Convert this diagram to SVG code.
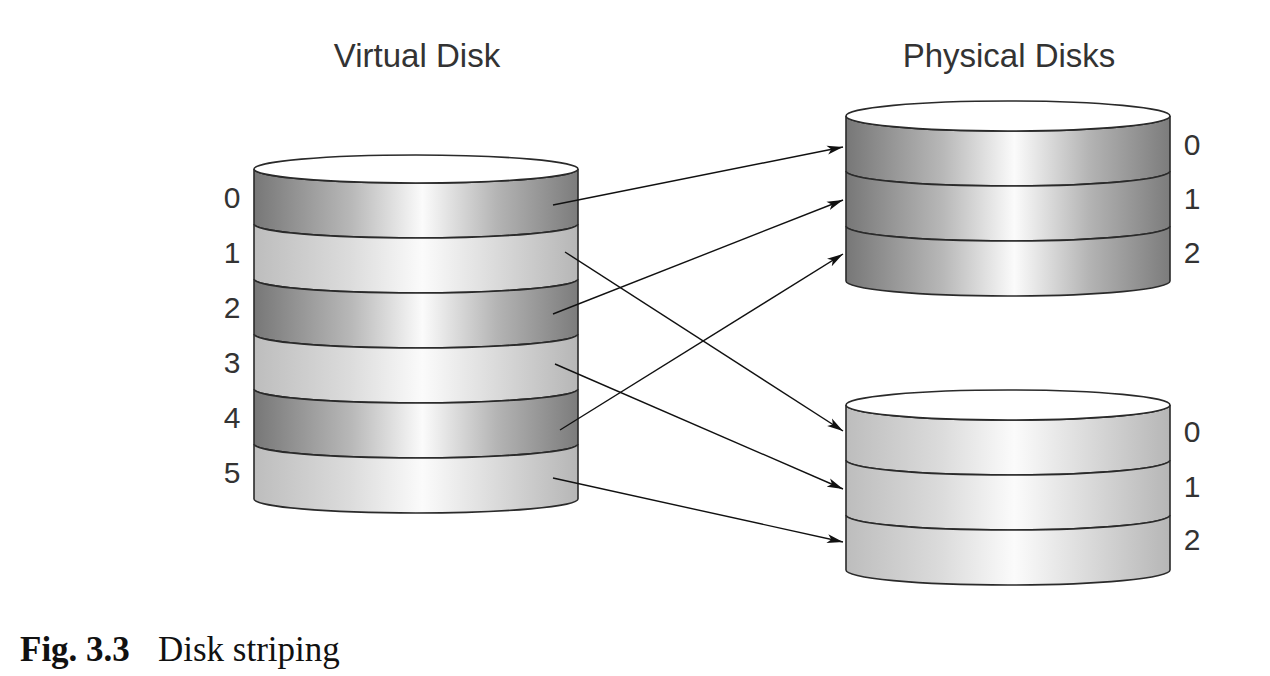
<svg xmlns="http://www.w3.org/2000/svg" width="1270" height="676" viewBox="0 0 1270 676">
<defs>
<linearGradient id="dark" x1="0" y1="0" x2="1" y2="0">
<stop offset="0" stop-color="#777"/>
<stop offset="0.3" stop-color="#b8b8b8"/>
<stop offset="0.52" stop-color="#fbfbfb"/>
<stop offset="0.75" stop-color="#b4b4b4"/>
<stop offset="1" stop-color="#7c7c7c"/>
</linearGradient>
<linearGradient id="light" x1="0" y1="0" x2="1" y2="0">
<stop offset="0" stop-color="#bdbdbd"/>
<stop offset="0.3" stop-color="#dcdcdc"/>
<stop offset="0.52" stop-color="#fbfbfb"/>
<stop offset="0.75" stop-color="#dadada"/>
<stop offset="1" stop-color="#b6b6b6"/>
</linearGradient>
<marker id="arr" markerUnits="userSpaceOnUse" markerWidth="18" markerHeight="10" refX="16" refY="5" orient="auto">
<path d="M0,0.5 L16,5 L0,9.5 L4,5 Z" fill="#111"/>
</marker>
<style>
.band{stroke:#2a2a2a;stroke-width:1.6}
.d{fill:url(#dark)}
.l{fill:url(#light)}
.top{fill:#fff;stroke:#2a2a2a;stroke-width:1.6}
.lbl{font-family:"Liberation Sans",Arial,sans-serif;font-size:30px;fill:#333}
.ttl{font-family:"Liberation Sans",Arial,sans-serif;font-size:33px;fill:#333}
.conn line{stroke:#111;stroke-width:1.4;marker-end:url(#arr)}
</style>
</defs>
<rect width="1270" height="676" fill="#fff"/>
<text class="ttl" x="417" y="67" text-anchor="middle">Virtual Disk</text>
<text class="ttl" x="1009" y="67" text-anchor="middle">Physical Disks</text>

<g id="virtual-disk">
<path class="band d" d="M254,169 A162,14 0 0 0 578,169 L578,224 A162,14 0 0 1 254,224 Z"/>
<path class="band l" d="M254,224 A162,14 0 0 0 578,224 L578,279 A162,14 0 0 1 254,279 Z"/>
<path class="band d" d="M254,279 A162,14 0 0 0 578,279 L578,334 A162,14 0 0 1 254,334 Z"/>
<path class="band l" d="M254,334 A162,14 0 0 0 578,334 L578,389 A162,14 0 0 1 254,389 Z"/>
<path class="band d" d="M254,389 A162,14 0 0 0 578,389 L578,444 A162,14 0 0 1 254,444 Z"/>
<path class="band l" d="M254,444 A162,14 0 0 0 578,444 L578,499 A162,14 0 0 1 254,499 Z"/>
<ellipse class="top" cx="416" cy="169" rx="162" ry="14"/>
<text class="lbl" x="232" y="208" text-anchor="middle">0</text>
<text class="lbl" x="232" y="263" text-anchor="middle">1</text>
<text class="lbl" x="232" y="318" text-anchor="middle">2</text>
<text class="lbl" x="232" y="373" text-anchor="middle">3</text>
<text class="lbl" x="232" y="428" text-anchor="middle">4</text>
<text class="lbl" x="232" y="483" text-anchor="middle">5</text>
</g>

<g id="physical-disk-1">
<path class="band d" d="M846,116 A162,15 0 0 0 1170,116 L1170,171 A162,15 0 0 1 846,171 Z"/>
<path class="band d" d="M846,171 A162,15 0 0 0 1170,171 L1170,226 A162,15 0 0 1 846,226 Z"/>
<path class="band d" d="M846,226 A162,15 0 0 0 1170,226 L1170,281 A162,15 0 0 1 846,281 Z"/>
<ellipse class="top" cx="1008" cy="116" rx="162" ry="15"/>
<text class="lbl" x="1192" y="155" text-anchor="middle">0</text>
<text class="lbl" x="1192" y="209" text-anchor="middle">1</text>
<text class="lbl" x="1192" y="263" text-anchor="middle">2</text>
</g>

<g id="physical-disk-2">
<path class="band l" d="M846,405 A162,15 0 0 0 1170,405 L1170,460 A162,15 0 0 1 846,460 Z"/>
<path class="band l" d="M846,460 A162,15 0 0 0 1170,460 L1170,515 A162,15 0 0 1 846,515 Z"/>
<path class="band l" d="M846,515 A162,15 0 0 0 1170,515 L1170,570 A162,15 0 0 1 846,570 Z"/>
<ellipse class="top" cx="1008" cy="405" rx="162" ry="15"/>
<text class="lbl" x="1192" y="442" text-anchor="middle">0</text>
<text class="lbl" x="1192" y="497" text-anchor="middle">1</text>
<text class="lbl" x="1192" y="550" text-anchor="middle">2</text>
</g>

<g id="connectors" class="conn">
<line x1="553" y1="205" x2="843" y2="147"/>
<line x1="565" y1="252" x2="843" y2="431"/>
<line x1="553" y1="314" x2="843" y2="200"/>
<line x1="555" y1="364" x2="843" y2="489"/>
<line x1="560" y1="430" x2="843" y2="254"/>
<line x1="553" y1="478" x2="843" y2="542"/>
</g>

<text x="20" y="661" font-family="'Liberation Serif','Times New Roman',serif" font-size="35" fill="#111"><tspan font-weight="bold">Fig. 3.3</tspan><tspan x="158">Disk striping</tspan></text>
</svg>
